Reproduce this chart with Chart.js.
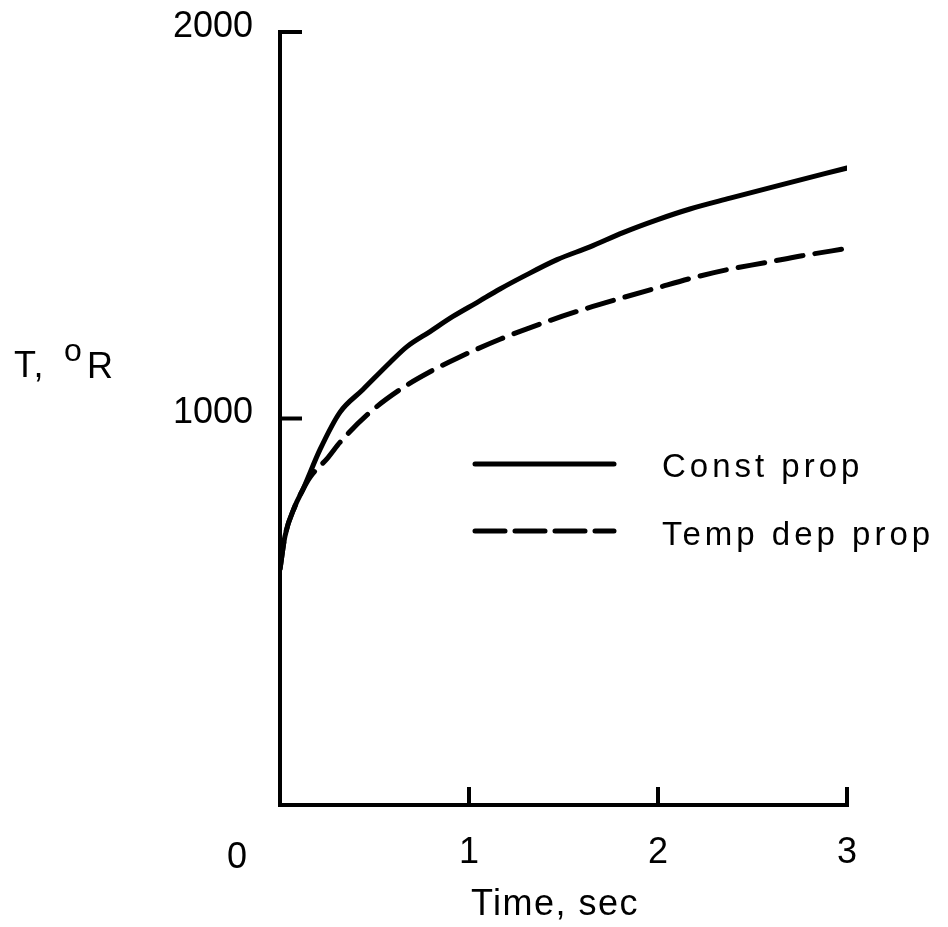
<!DOCTYPE html>
<html>
<head>
<meta charset="utf-8">
<script src="https://cdn.jsdelivr.net/npm/chart.js@4.4.1/dist/chart.umd.min.js"></script>
<style>
  body { margin: 0; background: #fff; }
  canvas { display: block; }
</style>
</head>
<body>
<canvas id="grafica" width="948" height="927"></canvas>
<script>
// Datos (tiempo en s, temperatura en grados R)
const tiempoConst = [0, 0.026, 0.079, 0.122, 0.212, 0.317, 0.439, 0.582, 0.672, 0.794, 0.915, 1.042, 1.164, 1.286, 1.466, 1.64, 1.815, 1.995, 2.169, 2.381, 2.646, 3.0];
const tempConst = [610, 695, 773, 817, 920, 1016, 1075, 1145, 1186, 1225, 1264, 1300, 1335, 1367, 1411, 1444, 1481, 1514, 1542, 1570, 1604, 1648];
const tiempoVar = [0, 0.026, 0.079, 0.122, 0.159, 0.254, 0.317, 0.476, 0.651, 0.794, 0.937, 1.164, 1.413, 1.603, 1.815, 1.995, 2.169, 2.365, 2.566, 2.762, 3.0];
const tempVar = [610, 695, 773, 817, 848, 899, 938, 1016, 1080, 1121, 1156, 1205, 1251, 1282, 1313, 1338, 1362, 1385, 1403, 1421, 1440];
const ticksX = [1, 2, 3];
const ticksY = [1000, 2000];
const nombresSeries = ["Const prop", "Temp dep prop"];
const tituloX = "Time, sec";

const FUENTE = '"Liberation Sans", Arial, sans-serif';
const DASH = [27, 12];

function armarPuntos(xs, ys) {
  return xs.map((x, i) => ({ x: x, y: ys[i] }));
}

// marcas hacia dentro, etiquetas sueltas y leyenda
const pluginDibujo = {
  id: "dibujo",
  afterDraw(chart) {
    const ctx = chart.ctx;
    const ex = chart.scales.x;
    const ey = chart.scales.y;
    const area = chart.chartArea;
    ctx.save();
    ctx.strokeStyle = "#000";
    ctx.lineWidth = 4;
    ctx.lineCap = "butt";
    ticksY.forEach((v) => {
      const py = ey.getPixelForValue(v);
      ctx.beginPath();
      ctx.moveTo(area.left, py);
      ctx.lineTo(area.left + 22, py);
      ctx.stroke();
    });
    ticksX.forEach((v) => {
      const px = ex.getPixelForValue(v);
      ctx.beginPath();
      ctx.moveTo(px, area.bottom + 2);
      ctx.lineTo(px, area.bottom - 18);
      ctx.stroke();
    });

    ctx.fillStyle = "#000";
    ctx.textBaseline = "alphabetic";
    // origen
    ctx.font = "36px " + FUENTE;
    ctx.textAlign = "center";
    ctx.fillText("0", 237, 868);
    // titulo eje x
    ctx.letterSpacing = "1.5px";
    ctx.fillText(tituloX, 555, 915);
    // titulo eje y
    ctx.textAlign = "left";
    ctx.fillText("T,", 14, 377);
    ctx.font = "32px " + FUENTE;
    ctx.fillText("o", 64, 361);
    ctx.font = "36px " + FUENTE;
    ctx.fillText("R", 87, 378);

    // leyenda
    ctx.lineWidth = 5;
    ctx.lineCap = "round";
    ctx.beginPath();
    ctx.moveTo(475, 464);
    ctx.lineTo(614, 464);
    ctx.stroke();
    ctx.setLineDash([30, 10]);
    ctx.beginPath();
    ctx.moveTo(475, 531);
    ctx.lineTo(614, 531);
    ctx.stroke();
    ctx.setLineDash([]);
    ctx.font = "33px " + FUENTE;
    ctx.letterSpacing = "4px";
    ctx.fillText(nombresSeries[0], 662, 477);
    ctx.fillText(nombresSeries[1], 662, 545);
    ctx.restore();
  },
};

new Chart(document.getElementById("grafica"), {
  type: "line",
  data: {
    datasets: [
      {
        label: nombresSeries[0],
        data: armarPuntos(tiempoConst, tempConst),
        borderColor: "#000",
        borderWidth: 5,
        pointRadius: 0,
        cubicInterpolationMode: "monotone",
        borderCapStyle: "round",
        fill: false,
      },
      {
        label: nombresSeries[1],
        data: armarPuntos(tiempoVar, tempVar),
        borderColor: "#000",
        borderWidth: 5,
        borderDash: DASH,
        pointRadius: 0,
        cubicInterpolationMode: "monotone",
        borderCapStyle: "round",
        fill: false,
      },
    ],
  },
  options: {
    responsive: false,
    animation: false,
    layout: { padding: { top: 32, right: 101, left: 0, bottom: 0 } },
    plugins: { legend: { display: false }, tooltip: { enabled: false } },
    scales: {
      x: {
        type: "linear",
        min: 0,
        max: 3,
        afterFit: (s) => {
          s.height = 122;
          s.paddingLeft = 0;
          s.paddingRight = 0;
        },
        grid: { display: false, drawTicks: false },
        border: { display: true, color: "#000", width: 4 },
        ticks: {
          stepSize: 1,
          autoSkip: false,
          maxRotation: 0,
          padding: 26,
          color: "#000",
          font: { family: FUENTE, size: 36 },
          callback: (v) => (v === 0 ? "" : v),
        },
      },
      y: {
        min: 0,
        max: 2000,
        afterFit: (s) => {
          s.width = 280;
          s.paddingTop = 0;
          s.paddingBottom = 0;
        },
        grid: { display: false, drawTicks: false },
        border: { display: true, color: "#000", width: 4 },
        ticks: {
          stepSize: 1000,
          padding: 27,
          labelOffset: -5,
          color: "#000",
          font: { family: FUENTE, size: 36 },
          callback: (v) => (v === 0 ? "" : v),
        },
      },
    },
  },
  plugins: [pluginDibujo],
});
</script>
</body>
</html>
